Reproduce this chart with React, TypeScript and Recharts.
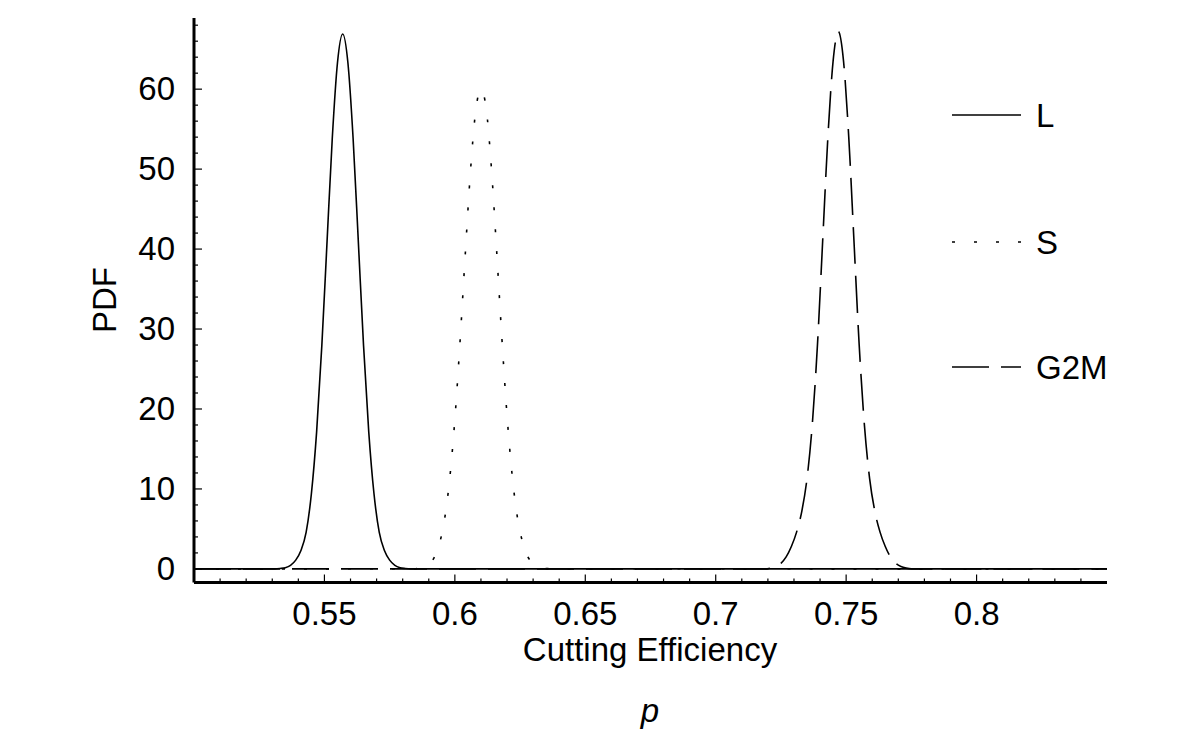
import React from 'react';
import { LineChart, Line, XAxis, YAxis, Legend } from 'recharts';

// tick positions
const xMajorTicks = [0.55, 0.6, 0.65, 0.7, 0.75, 0.8];
const xMinorTicks = [
  0.51, 0.52, 0.53, 0.54, 0.56, 0.57, 0.58, 0.59, 0.61, 0.62, 0.63, 0.64, 0.66, 0.67, 0.68, 0.69,
  0.71, 0.72, 0.73, 0.74, 0.76, 0.77, 0.78, 0.79, 0.81, 0.82, 0.83, 0.84,
];
const yMajorTicks = [0, 10, 20, 30, 40, 50, 60];
const yMinorTicks = [
  2, 4, 6, 8, 12, 14, 16, 18, 22, 24, 26, 28, 32, 34, 36, 38, 42, 44, 46, 48, 52, 54, 56, 58, 62,
  64, 66, 68,
];

// L
const lX = [
  0.5, 0.531, 0.533, 0.535, 0.537, 0.539, 0.541, 0.543, 0.545, 0.547, 0.549, 0.551, 0.553, 0.555,
  0.557, 0.559, 0.561, 0.563, 0.565, 0.567, 0.569, 0.571, 0.573, 0.575, 0.577, 0.579, 0.581, 0.583,
  0.85,
];
const lY = [
  0, 0, 0.05, 0.15, 0.45, 1.1, 2.3, 4.6, 9.4, 17.1, 27.9, 40.9, 53.8, 63.3, 66.9, 63.3, 53.8, 40.9,
  27.9, 17.1, 9.4, 4.6, 2.3, 1.1, 0.45, 0.15, 0.05, 0, 0,
];

// S
const sX = [
  0.5, 0.584, 0.586, 0.588, 0.59, 0.592, 0.594, 0.596, 0.598, 0.6, 0.602, 0.604, 0.606, 0.608, 0.61,
  0.612, 0.614, 0.616, 0.618, 0.62, 0.622, 0.624, 0.626, 0.628, 0.63, 0.632, 0.634, 0.636, 0.85,
];
const sY = [
  0, 0.02, 0.07, 0.21, 0.57, 1.37, 3.04, 6.11, 11.2, 18.7, 28.5, 39.4, 49.8, 57.3, 60.0, 57.6, 50.2,
  39.9, 29.0, 19.2, 11.6, 6.4, 3.3, 1.5, 0.7, 0.3, 0.1, 0.03, 0,
];

// G2M
const gX = [
  0.5, 0.719, 0.721, 0.723, 0.725, 0.727, 0.729, 0.731, 0.733, 0.735, 0.737, 0.739, 0.741, 0.743,
  0.745, 0.747, 0.749, 0.751, 0.753, 0.755, 0.757, 0.759, 0.761, 0.763, 0.765, 0.767, 0.769, 0.771,
  0.773, 0.775, 0.85,
];
const gY = [
  0, 0, 0.1, 0.3, 0.7, 1.5, 2.8, 4.6, 7.2, 11.3, 18, 28, 41, 54, 63.5, 67.2, 63.5, 54, 41, 28, 18,
  11.3, 7.2, 4.6, 2.8, 1.5, 0.7, 0.3, 0.1, 0, 0,
];

const toRows = (xs: number[], ys: number[]) => xs.map((x, i) => ({ x, y: ys[i] }));

const FONT = '"Liberation Sans", Arial, Helvetica, sans-serif';

const series = [
  { name: 'L', data: toRows(lX, lY), dash: undefined },
  { name: 'S', data: toRows(sX, sY), dash: '3 19' },
  { name: 'G2M', data: toRows(gX, gY), dash: '37 12' },
];

const XTick = (props: any) => {
  const { x, y, payload } = props;
  const major = xMajorTicks.includes(payload.value);
  return (
    <g>
      <line x1={x} x2={x} y1={y} y2={y - (major ? 8 : 4)} stroke="#000" strokeWidth={1.2} />
      {major && (
        <text x={x} y={y + 42} textAnchor="middle" fontSize={33} fontFamily={FONT} fill="#000">
          {String(payload.value)}
        </text>
      )}
    </g>
  );
};

const YTick = (props: any) => {
  const { x, y, payload } = props;
  const major = yMajorTicks.includes(payload.value);
  return (
    <g>
      <line x1={x} x2={x + (major ? 8 : 4)} y1={y} y2={y} stroke="#000" strokeWidth={1.2} />
      {major && (
        <text x={x - 19} y={y + 11} textAnchor="end" fontSize={33} fontFamily={FONT} fill="#000">
          {String(payload.value)}
        </text>
      )}
    </g>
  );
};

const legendRows = [115, 242, 367];

const renderLegend = () => (
  <svg width={1200} height={740} style={{ position: 'absolute', left: 0, top: 0 }}>
    {series.map((s, i) => (
      <g key={s.name}>
        <line
          x1={952}
          x2={1021}
          y1={legendRows[i]}
          y2={legendRows[i]}
          stroke="#000"
          strokeWidth={1.5}
          strokeDasharray={s.dash}
        />
        <text x={1036} y={legendRows[i] + 12} fontSize={33} fontFamily={FONT} fill="#000">
          {s.name}
        </text>
      </g>
    ))}
  </svg>
);

export default function App() {
  return (
    <div style={{ position: 'absolute', left: 0, top: 0, width: 1200, height: 740, background: '#fff' }}>
      <LineChart width={1200} height={740} margin={{ top: 18, right: 93, bottom: 156.5, left: 193 }}>
        <XAxis
          dataKey="x"
          type="number"
          domain={[0.5, 0.85]}
          allowDataOverflow
          ticks={[...xMajorTicks, ...xMinorTicks]}
          interval={0}
          height={1}
          tickSize={0}
          tickMargin={0}
          tickLine={false}
          axisLine={{ stroke: '#000', strokeWidth: 3 }}
          tick={<XTick />}
        />
        <YAxis
          type="number"
          domain={[-1.7, 68.9]}
          allowDataOverflow
          ticks={[...yMajorTicks, ...yMinorTicks]}
          interval={0}
          width={1}
          tickSize={0}
          tickMargin={0}
          tickLine={false}
          axisLine={{ stroke: '#000', strokeWidth: 3 }}
          tick={<YTick />}
        />
        <Legend
          layout="vertical"
          align="center"
          verticalAlign="middle"
          wrapperStyle={{ left: 0, top: 0, width: 1200, height: 740, pointerEvents: 'none' }}
          content={renderLegend}
        />
        {series.map((s) => (
          <Line
            key={s.name}
            name={s.name}
            data={s.data}
            dataKey="y"
            type="monotone"
            stroke="#000"
            strokeWidth={1.6}
            strokeDasharray={s.dash}
            dot={false}
            activeDot={false}
            isAnimationActive={false}
          />
        ))}
        <text
          x={104}
          y={300}
          transform="rotate(-90 104 300)"
          textAnchor="middle"
          dominantBaseline="central"
          fontSize={33}
          fontFamily={FONT}
          fill="#000"
        >
          PDF
        </text>
        <text x={650} y={661} textAnchor="middle" fontSize={33} fontFamily={FONT} fill="#000">
          Cutting Efficiency
        </text>
        <text x={650} y={722} textAnchor="middle" fontSize={33} fontStyle="italic" fontFamily={FONT} fill="#000">
          p
        </text>
      </LineChart>
    </div>
  );
}
